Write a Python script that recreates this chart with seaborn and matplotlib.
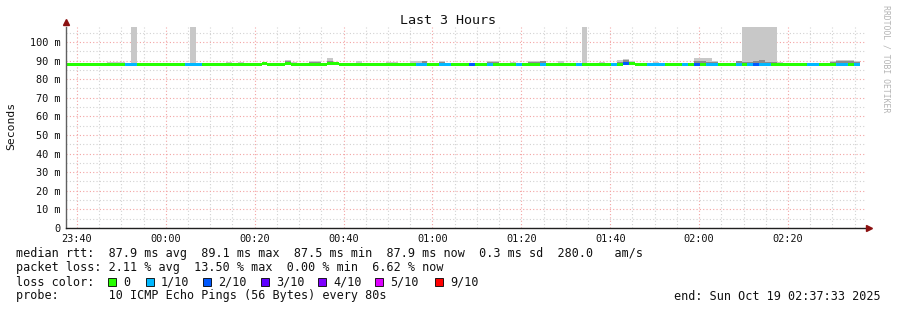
import numpy as np
import pandas as pd
import matplotlib
matplotlib.use("Agg")
import matplotlib.pyplot as plt
import seaborn as sns

# ---------------- data ----------------
title = "Last 3 Hours"
start_min = -22.45          # 23:37:33 expressed in minutes relative to 00:00
end_min = 157.55            # 02:37:33
step_s = 80                 # probe interval

# median rtt (ms) per 80 s step, 134 steps
median = [
    87.9, 87.9, 87.9, 87.9, 87.9, 87.9, 87.9, 87.9, 87.9, 87.9,
    87.6, 87.6, 87.9, 87.9, 87.9, 87.9, 87.9, 87.9, 87.9, 87.9,
    87.9, 87.9, 87.9, 87.9, 87.9, 87.9, 87.9, 87.6, 87.9, 87.9,
    87.6, 87.6, 87.9, 88.5, 87.6, 87.6, 87.9, 88.2, 87.9, 87.9,
    87.9, 88.0, 88.0, 87.9, 88.5, 88.5, 87.9, 87.6, 87.6, 87.6,
    87.9, 87.9, 87.9, 87.9, 87.6, 87.6, 87.9, 87.9, 87.9, 87.6,
    87.6, 87.9, 87.9, 87.6, 87.6, 87.9, 87.9, 87.9, 88.0, 87.6,
    87.6, 87.9, 87.9, 87.9, 87.9, 88.0, 87.6, 87.9, 87.9, 87.9,
    88.0, 87.9, 87.9, 87.9, 87.6, 87.9, 87.9, 87.9, 87.6, 87.6,
    87.9, 87.9, 88.0, 87.9, 88.2, 88.5, 87.9, 87.9, 87.9, 88.0,
    87.9, 87.9, 87.6, 87.6, 87.9, 87.9, 88.0, 87.6, 87.6, 87.6,
    87.9, 87.9, 87.9, 88.0, 87.9, 87.9, 88.0, 87.9, 87.6, 87.6,
    88.0, 87.9, 87.6, 87.6, 87.6, 87.6, 87.6, 87.9, 87.9, 87.9,
    87.9, 87.9, 87.9, 87.9,
]

# packet loss in tenths per step
loss = [
    0, 0, 0, 0, 0, 0, 0, 0, 0, 0,
    1, 1, 0, 0, 0, 0, 0, 0, 0, 0,
    1, 1, 1, 0, 0, 0, 0, 0, 0, 0,
    0, 0, 0, 0, 0, 0, 0, 0, 0, 0,
    0, 0, 0, 0, 0, 0, 0, 0, 0, 0,
    0, 0, 0, 0, 0, 0, 0, 0, 0, 1,
    1, 0, 0, 1, 1, 0, 0, 0, 2, 0,
    0, 1, 0, 0, 0, 0, 1, 0, 0, 0,
    1, 0, 0, 0, 0, 0, 1, 0, 0, 0,
    0, 0, 1, 0, 2, 0, 0, 0, 1, 1,
    1, 0, 0, 0, 1, 0, 2, 0, 1, 1,
    0, 0, 0, 1, 0, 1, 2, 1, 1, 0,
    0, 0, 0, 0, 0, 1, 1, 0, 0, 0,
    1, 1, 0, 1,
]

# highest ping per step (ms) - light smoke; 120 = clipped spike
smoke_hi = [
    88.4, 88.4, 88.4, 88.4, 88.4, 88.4, 88.4, 89.2, 89.2, 89.0,
    88.4, 120., 88.4, 88.4, 88.4, 88.4, 88.4, 88.4, 88.4, 88.4,
    88.4, 120., 88.4, 88.4, 88.4, 88.4, 88.4, 89.0, 88.4, 89.0,
    88.9, 88.4, 88.4, 88.9, 88.9, 88.4, 88.4, 90.3, 89.3, 88.4,
    88.4, 89.5, 89.5, 88.4, 91.4, 88.9, 88.4, 88.4, 88.4, 89.5,
    88.4, 88.4, 88.4, 88.4, 89.2, 89.2, 88.4, 88.4, 89.5, 89.5,
    90.0, 88.4, 88.4, 89.8, 88.4, 88.4, 88.4, 88.4, 88.9, 88.9,
    88.4, 89.6, 89.6, 88.4, 88.4, 89.0, 88.4, 88.4, 89.6, 89.6,
    90.0, 88.4, 88.4, 89.5, 88.4, 88.4, 88.4, 120., 88.4, 88.4,
    89.3, 88.4, 88.4, 90.2, 90.9, 89.8, 88.4, 88.4, 88.4, 89.4,
    88.4, 88.4, 88.4, 88.4, 88.4, 88.9, 91.4, 91.4, 91.4, 89.6,
    88.4, 88.4, 88.4, 89.8, 120., 120., 120., 120., 120., 120.,
    89.3, 88.4, 88.4, 88.4, 88.4, 88.4, 88.4, 88.4, 88.4, 89.6,
    90.4, 90.4, 90.4, 90.0,
]

# upper edge of the dense (dark) smoke per step (ms)
smoke_dark = [
    88.2, 88.2, 88.2, 88.2, 88.2, 88.2, 88.2, 88.9, 88.9, 88.6,
    88.2, 88.8, 88.2, 88.2, 88.2, 88.2, 88.2, 88.2, 88.2, 88.2,
    88.2, 88.8, 88.2, 88.2, 88.2, 88.2, 88.2, 88.2, 88.2, 88.2,
    88.2, 88.2, 88.2, 88.2, 88.2, 88.2, 88.2, 89.8, 88.9, 88.2,
    88.2, 89.0, 89.0, 88.2, 89.6, 88.2, 88.2, 88.2, 88.2, 88.9,
    88.2, 88.2, 88.2, 88.2, 88.2, 88.2, 88.2, 88.2, 88.9, 88.9,
    89.6, 88.2, 88.2, 89.4, 88.2, 88.2, 88.2, 88.2, 88.2, 88.2,
    88.2, 89.0, 89.0, 88.2, 88.2, 88.2, 88.2, 88.2, 89.0, 89.0,
    89.5, 88.2, 88.2, 88.9, 88.2, 88.2, 88.2, 88.9, 88.2, 88.2,
    88.2, 88.2, 88.2, 89.4, 90.2, 89.0, 88.2, 88.2, 88.2, 88.9,
    88.2, 88.2, 88.2, 88.2, 88.2, 88.2, 89.8, 89.5, 89.0, 89.0,
    88.2, 88.2, 88.2, 89.5, 89.0, 89.2, 89.6, 90.2, 89.2, 89.0,
    88.8, 88.2, 88.2, 88.2, 88.2, 88.2, 88.2, 88.2, 88.2, 89.0,
    89.6, 89.6, 89.6, 89.4,
]

loss_levels = ["0", "1/10", "2/10", "3/10", "4/10", "5/10", "9/10"]
loss_colors = ["#26ff00", "#00b8ff", "#0059ff", "#5e00ff", "#7e00ff", "#dd00ff", "#ff0000"]
loss_color_by_tenth = {0: "#26ff00", 1: "#00b8ff", 2: "#0059ff", 3: "#5e00ff",
                       4: "#7e00ff", 5: "#dd00ff", 9: "#ff0000"}

x_tick_pos = [-20, 0, 20, 40, 60, 80, 100, 120, 140]
x_tick_labels = ["23:40", "00:00", "00:20", "00:40", "01:00", "01:20", "01:40", "02:00", "02:20"]
y_tick_pos = [0, 10, 20, 30, 40, 50, 60, 70, 80, 90, 100]
y_tick_labels = ["0", "10 m", "20 m", "30 m", "40 m", "50 m", "60 m", "70 m", "80 m", "90 m", "100 m"]

legend_rtt = "median rtt:  87.9 ms avg  89.1 ms max  87.5 ms min  87.9 ms now  0.3 ms sd  280.0   am/s"
legend_loss = "packet loss: 2.11 % avg  13.50 % max  0.00 % min  6.62 % now"
legend_probe = "probe:       10 ICMP Echo Pings (56 Bytes) every 80s"
legend_end = "end: Sun Oct 19 02:37:33 2025"
watermark = "RRDTOOL / TOBI OETIKER"

# ---------------- build table ----------------
n = len(median)
df = pd.DataFrame({
    "t": start_min + np.arange(n) * step_s / 60.0,
    "median": median, "loss": loss, "hi": smoke_hi, "dark": smoke_dark,
})
step_min = step_s / 60.0
line_half = 0.8  # half thickness of the median band in ms (about 3 px)

# ---------------- figure ----------------
sns.set_style("white")
plt.rcParams["font.family"] = ["DejaVu Sans Mono", "DejaVu Sans"]
W, H = 897, 310
fig = plt.figure(figsize=(W / 100, H / 100), dpi=100)
fig.patch.set_facecolor("white")
ax = fig.add_axes([66 / W, (H - 228) / H, 800 / W, 201 / H])
ax.set_facecolor("white")

ax.set_xlim(start_min, end_min)
ax.set_ylim(0, 108)

# grid
ax.set_xticks(x_tick_pos)
ax.set_xticks(np.arange(-20, 160, 5), minor=True)
ax.set_yticks(y_tick_pos)
ax.set_yticks(np.arange(0, 110, 5), minor=True)
ax.grid(which="minor", color="#d2d2d2", linestyle=(0, (1, 2)), linewidth=0.8)
ax.grid(which="major", color="#f3a3a3", linestyle=(0, (1, 2)), linewidth=0.8)
ax.set_axisbelow(True)

# smoke
ax.bar(df["t"], df["hi"] - (df["median"] - line_half), bottom=df["median"] - line_half,
       width=step_min, align="edge", color="#c8c8c8", linewidth=0, zorder=2)
ax.bar(df["t"], df["dark"] - (df["median"] - line_half), bottom=df["median"] - line_half,
       width=step_min, align="edge", color="#8c8c8c", linewidth=0, zorder=3)
# median band coloured by loss
ax.bar(df["t"], 2 * line_half, bottom=df["median"] - line_half, width=step_min, align="edge",
       color=[loss_color_by_tenth[v] for v in df["loss"]], linewidth=0, zorder=4)

# axes styling
for s in ["top", "right"]:
    ax.spines[s].set_visible(False)
ax.spines["left"].set_color("#606060")
ax.spines["bottom"].set_color("#202020")
ax.spines["left"].set_linewidth(1.0)
ax.spines["bottom"].set_linewidth(1.0)
ax.spines["left"].set_zorder(5)
ax.spines["bottom"].set_zorder(5)
ax.set_xticklabels(x_tick_labels, fontsize=7.4, color="#111111")
ax.set_yticklabels(y_tick_labels, fontsize=7.4, color="#111111")
ax.tick_params(which="major", length=2, width=0.8, color="#808080", pad=2)
ax.tick_params(which="minor", length=1.5, width=0.6, color="#a0a0a0")
ax.plot([0], [1.025], marker="^", color="#8b1010", markersize=4.5, transform=ax.transAxes,
        clip_on=False, zorder=6)
ax.plot([1.004], [0], marker=">", color="#8b1010", markersize=4.5, transform=ax.transAxes,
        clip_on=False, zorder=6)

fig.text(448 / W, 1 - 20 / H, title, ha="center", va="center", fontsize=9.6, color="#111111")
fig.text(11 / W, 1 - 126 / H, "Seconds", rotation=90, ha="center", va="center",
         fontsize=8.2, color="#111111")
fig.text(886 / W, 1 - 59 / H, watermark, rotation=-90, ha="center", va="center",
         fontsize=5.9, color="#b4b4b4")

# legend rows
fs = 8.5
fig.text(16 / W, 1 - 254 / H, legend_rtt, ha="left", va="center", fontsize=fs, color="#111111")
fig.text(16 / W, 1 - 268 / H, legend_loss, ha="left", va="center", fontsize=fs, color="#111111")
fig.text(16 / W, 1 - 282 / H, "loss color:", ha="left", va="center", fontsize=fs, color="#111111")
box_x = [108, 146, 203, 261, 318, 375, 435]
for bx, lab, col in zip(box_x, loss_levels, loss_colors):
    fig.patches.append(matplotlib.patches.Rectangle(
        (bx / W, 1 - 286 / H), 8 / W, 8 / H, transform=fig.transFigure,
        facecolor=col, edgecolor="#000000", linewidth=0.6))
    fig.text((bx + 15) / W, 1 - 282 / H, lab, ha="left", va="center", fontsize=fs, color="#111111")
fig.text(16 / W, 1 - 296 / H, legend_probe, ha="left", va="center", fontsize=fs, color="#111111")
fig.text(881 / W, 1 - 296 / H, legend_end, ha="right", va="center", fontsize=fs, color="#111111")

fig.savefig("out.png", dpi=100, facecolor="white")
